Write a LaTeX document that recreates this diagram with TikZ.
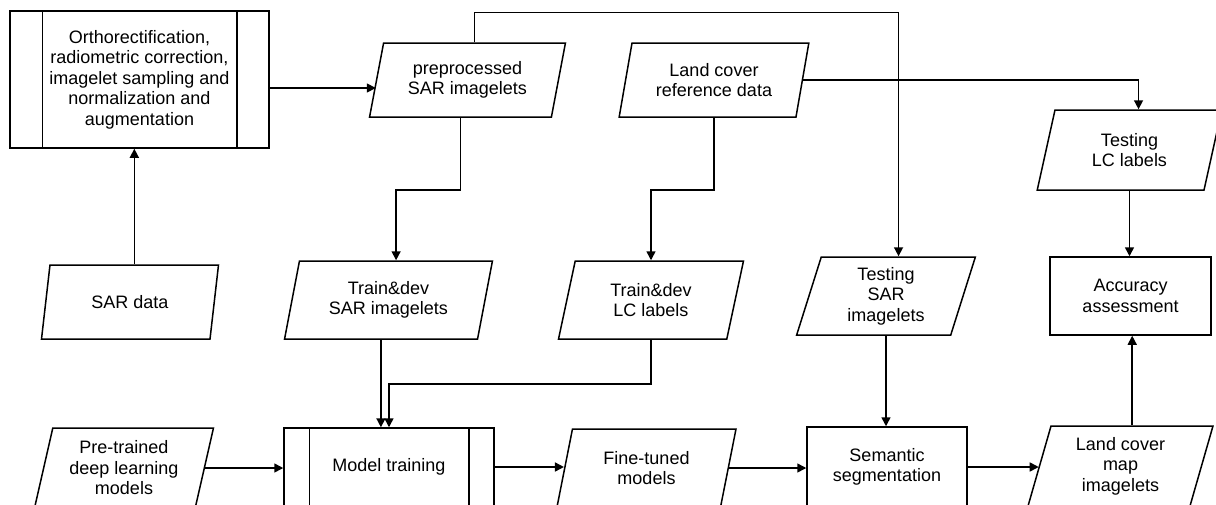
\documentclass[tikz,border=0pt]{standalone}
\usepackage{fontspec}
\setmainfont{Liberation Sans}
\usetikzlibrary{shapes.geometric,arrows.meta,calc}
\begin{document}
\begin{tikzpicture}[x=1pt,y=-1pt,
  every node/.style={font=\fontsize{18}{20.5}\selectfont, align=center, text=black},
  base/.style={draw, line width=1.5pt, inner sep=2pt},
  rect/.style={base, rectangle},
  io/.style={base, trapezium, trapezium left angle=76, trapezium right angle=104, trapezium stretches=true},
  ln/.style={line width=1.5pt},
  arr/.style={line width=1.5pt, -{Triangle[length=9pt,width=9pt]}},
  pproc/.style={base, rectangle, append after command={\pgfextra{\draw[ln] ($(\tikzlastnode.north west)+(#1,0)$) -- ($(\tikzlastnode.south west)+(#1,0)$) ($(\tikzlastnode.north east)+(-#1,0)$) -- ($(\tikzlastnode.south east)+(-#1,0)$);}}}
]
\useasboundingbox (0,0) rectangle (1216,504);
\clip (0,0) rectangle (1216,504);
\fill[white] (0,0) rectangle (1216,504);

\node[pproc=33, minimum width=259, minimum height=137] (box1) at (139.5,79.5) {Orthorectification,\\radiometric correction,\\imagelet sampling and\\normalization and\\augmentation};
\node[io, minimum width=196, minimum height=74] (pre) at (467.5,80) {preprocessed\\SAR imagelets};
\node[io, minimum width=190, minimum height=74] (lcref) at (714,80) {Land cover\\reference data};
\node[io, minimum width=185, minimum height=80] (tlc) at (1129.5,150) {Testing\\LC labels};
\node[io, minimum width=178, minimum height=74] (sar) at (130,302) {SAR data};
\node[io, minimum width=208, minimum height=78] (tsar) at (388.5,300) {Train\&dev\\SAR imagelets};
\node[io, minimum width=185, minimum height=78] (tlcl) at (651,300) {Train\&dev\\LC labels};
\node[io, minimum width=179, minimum height=78] (tsari) at (886,296) {Testing\\SAR\\imagelets};
\node[rect, minimum width=161, minimum height=78] (acc) at (1130.5,296) {Accuracy\\assessment};
\node[io, minimum width=179, minimum height=80] (pt) at (124,468) {Pre-trained\\deep learning\\models};
\node[pproc=26, minimum width=210, minimum height=78] (mt) at (389,467) {Model training};
\node[io, minimum width=179, minimum height=78] (ft) at (646.5,468) {Fine-tuned\\models};
\node[rect, minimum width=160, minimum height=80] (ss) at (887,467) {Semantic\\segmentation};
\node[io, minimum width=185, minimum height=80] (lcm) at (1120.5,466) {Land cover\\map\\imagelets};

\coordinate (b1out) at ($(box1.east)+(0,8.5)$);
\draw[arr] (b1out) -- (b1out -| pre.left side);
\draw[arr] (pre.top side) -- ++(0,-30) -| (tsari.top side);
\draw[arr] (lcref.right side) -| (tlc.top side);
\draw[arr] (pre.bottom side) -- ++(0,72) -| (tsar.top side);
\draw[arr] (lcref.bottom side -| lcref.center) -- ++(0,72) -| (tlcl.top side -| tlcl.center);
\draw[arr] (sar.top side) -- (sar.top side |- box1.south);
\draw[arr] (tsar.bottom side) -- (tsar.bottom side |- mt.north);
\draw[arr] (tlcl.bottom side -| tlcl.center) -- ++(0,44) -| (mt.north);
\draw[arr] (tlc.bottom side -| tlc.center) -- (tlc.center |- acc.north);
\draw[arr] (tsari.bottom side -| tsari.center) -- (tsari.center |- ss.north);
\draw[arr] (pt.right side) -- (pt.right side -| mt.west);
\draw[arr] (mt.east) -- (mt.east -| ft.left side);
\draw[arr] (ft.right side) -- (ft.right side -| ss.west);
\draw[arr] (ss.east) -- (ss.east -| lcm.left side);
\draw[arr] (lcm.top side) -- (lcm.top side |- acc.south);
\end{tikzpicture}
\end{document}
